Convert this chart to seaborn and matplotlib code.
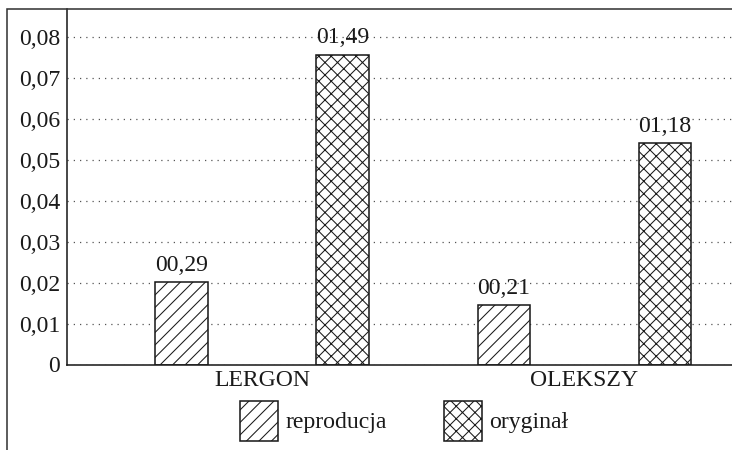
import pandas as pd
import matplotlib
matplotlib.use("Agg")
import matplotlib.pyplot as plt
from matplotlib.patches import Patch, Rectangle
import seaborn as sns

# data
categories = ["LERGON", "OLEKSZY"]
series = ["reproducja", "oryginał"]
reproducja = [0.0201, 0.0145]
oryginal = [0.0757, 0.0541]
bar_labels = {"reproducja": ["00,29", "00,21"], "oryginał": ["01,49", "01,18"]}
yticks = [0, 0.01, 0.02, 0.03, 0.04, 0.05, 0.06, 0.07, 0.08]
ytick_labels = ["0", "0,01", "0,02", "0,03", "0,04", "0,05", "0,06", "0,07", "0,08"]
hatches = {"reproducja": "////", "oryginał": "xxxx"}

df = pd.DataFrame({
    "kategoria": categories * 2,
    "seria": [series[0]] * 2 + [series[1]] * 2,
    "wartosc": reproducja + oryginal,
})

sns.set_style("white")
plt.rcParams["font.family"] = ["Liberation Serif", "DejaVu Serif"]
plt.rcParams["hatch.linewidth"] = 0.5
plt.rcParams["hatch.color"] = "#1a1a1a"

fs = 11.4
ink = "#1a1a1a"
fig = plt.figure(figsize=(4.88, 3.0), dpi=150)
ax = fig.add_axes([67 / 732, 1 - 364.5 / 450, 1 - 67 / 732, (364.5 - 9) / 450])

sns.barplot(data=df, x="kategoria", y="wartosc", hue="seria", hue_order=series,
            order=categories, palette=["white", "white"], edgecolor=ink,
            linewidth=0.75, width=1.0, gap=0.674, legend=False, ax=ax)

for cont, name in zip(ax.containers, series):
    for bar in cont:
        bar.set_hatch(hatches[name])
    ax.bar_label(cont, labels=bar_labels[name], padding=3.2, fontsize=fs, color=ink)

ax.set_ylim(0, 0.0869)
ax.set_xlim(-0.605, 1.458)
ax.set_yticks(yticks)
ax.set_yticklabels(ytick_labels)
ax.yaxis.grid(True, color="#555555", linestyle=(0, (1, 4)), linewidth=0.6)
ax.set_axisbelow(True)
ax.tick_params(axis="both", length=0, labelsize=fs, colors=ink)
ax.tick_params(axis="y", pad=3.4)
ax.tick_params(axis="x", pad=2.6)
ax.set_xlabel("")
ax.set_ylabel("")
for side in ["top", "right"]:
    ax.spines[side].set_visible(False)
for side in ["left", "bottom"]:
    ax.spines[side].set_color(ink)
    ax.spines[side].set_linewidth(0.75)

# outer frame (cropped on the right and bottom)
fig.patches.append(Rectangle((7 / 732, -0.5), 2, 0.5 + 1 - 9 / 450, transform=fig.transFigure,
                             fill=False, edgecolor="#333333", linewidth=0.75))

handles = [Patch(facecolor="white", edgecolor=ink, linewidth=0.75, hatch=hatches[s])
           for s in series]
fig.legend(handles, series, loc="center", bbox_to_anchor=(404 / 732, 1 - 421 / 450),
           ncol=2, frameon=False, fontsize=fs, handlelength=1.6, handleheight=2.2,
           handletextpad=0.3, columnspacing=2.4, labelcolor=ink)

fig.savefig("out.png", dpi=150)
